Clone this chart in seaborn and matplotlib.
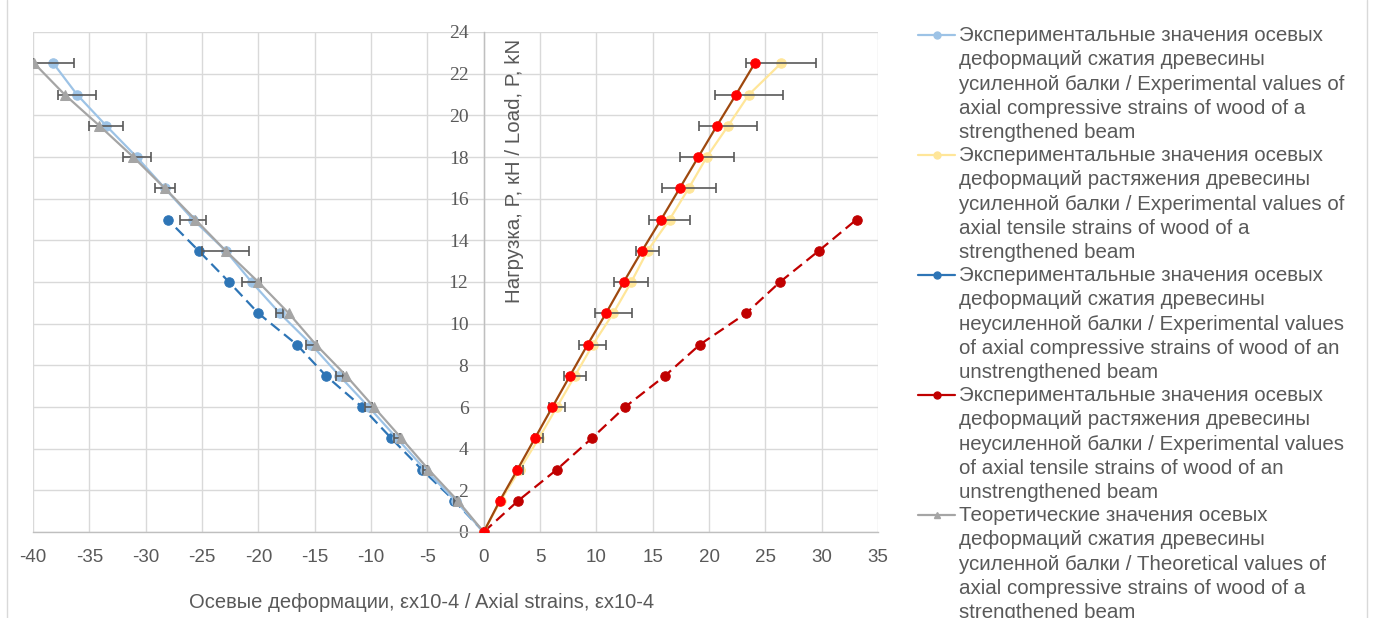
import matplotlib
matplotlib.use("Agg")
import matplotlib.pyplot as plt
import seaborn as sns
import pandas as pd
from matplotlib.lines import Line2D

# ---- data ----
load = [0, 1.5, 3, 4.5, 6, 7.5, 9, 10.5, 12, 13.5, 15, 16.5, 18, 19.5, 21, 22.5]
comp_str_exp = [0, -2.5, -5.2, -7.7, -10.2, -12.8, -15.3, -18.1, -20.6, -22.9, -25.8, -28.3, -30.8, -33.5, -36.1, -38.2]
comp_str_err = [0, 0.1, 0.2, 0.3, 0.3, 0.3, 0.5, 0.3, 0.85, 2.1, 1.15, 0.9, 1.25, 1.5, 1.65, 1.8]
tens_str_exp = [0, 1.5, 3.2, 4.9, 6.5, 8.1, 9.7, 11.5, 13.1, 14.55, 16.5, 18.2, 19.8, 21.7, 23.55, 26.4]
tens_str_err = [0, 0.1, 0.3, 0.4, 0.7, 1.0, 1.2, 1.65, 1.5, 1.0, 1.85, 2.4, 2.4, 2.6, 3.0, 3.1]
load_un = [0, 1.5, 3, 4.5, 6, 7.5, 9, 10.5, 12, 13.5, 15]
comp_un_exp = [0, -2.6, -5.5, -8.2, -10.8, -14.0, -16.6, -20.0, -22.6, -25.3, -28.05]
tens_un_exp = [0, 3.06, 6.5, 9.6, 12.55, 16.1, 19.2, 23.3, 26.3, 29.75, 33.1]
comp_theory = [0, -2.3, -4.9, -7.3, -9.75, -12.2, -14.9, -17.3, -20.0, -22.9, -25.6, -28.3, -31.1, -34.1, -37.2, -39.9]
tens_theory = [0, 1.43, 3.0, 4.55, 6.1, 7.66, 9.23, 10.86, 12.43, 14.06, 15.75, 17.4, 19.05, 20.7, 22.4, 24.06]

labels = [
    "Экспериментальные значения осевых\nдеформаций сжатия древесины\nусиленной балки / Experimental values of\naxial compressive strains of wood of a\nstrengthened beam",
    "Экспериментальные значения осевых\nдеформаций растяжения древесины\nусиленной балки / Experimental values of\naxial tensile strains of wood of a\nstrengthened beam",
    "Экспериментальные значения осевых\nдеформаций сжатия древесины\nнеусиленной балки / Experimental values\nof axial compressive strains of wood of an\nunstrengthened beam",
    "Экспериментальные значения осевых\nдеформаций растяжения древесины\nнеусиленной балки / Experimental values\nof axial tensile strains of wood of an\nunstrengthened beam",
    "Теоретические значения осевых\nдеформаций сжатия древесины\nусиленной балки / Theoretical values of\naxial compressive strains of wood of a\nstrengthened beam",
]
x_ticks = list(range(-40, 40, 5))
y_ticks = list(range(0, 26, 2))
x_label = "Осевые деформации, εx10-4 / Axial strains, εx10-4"
y_label = "Нагрузка, P, кН / Load, P, kN"

# ---- style ----
sns.set_theme(style="white")
plt.rcParams["font.family"] = ["Liberation Sans", "DejaVu Sans"]
plt.rcParams["axes.unicode_minus"] = False

TXT = "#595959"
W, H = 1378, 618
fig = plt.figure(figsize=(W / 100, H / 100), dpi=100)
ax = fig.add_axes([33 / W, 1 - 532 / H, (878 - 33) / W, (532 - 32) / H])

lw = 1.6
ms = 6.8

series = [
    dict(x=comp_str_exp, y=load, c="#9DC3E6", mc="#9DC3E6", m="o", dash=False, z=3),
    dict(x=tens_str_exp, y=load, c="#FFE699", mc="#FFE699", m="o", dash=False, z=3),
    dict(x=comp_un_exp, y=load_un, c="#2E75B6", mc="#2E75B6", m="o", dash=True, z=2.5),
    dict(x=tens_un_exp, y=load_un, c="#C00000", mc="#C00000", m="o", dash=True, z=2.5),
    dict(x=comp_theory, y=load, c="#A5A5A5", mc="#A5A5A5", m="^", dash=False, z=4),
    dict(x=tens_theory, y=load, c="#9E480E", mc="#FF0000", m="o", dash=False, z=4),
]

for s in series:
    df = pd.DataFrame({"x": s["x"], "y": s["y"]})
    n0 = len(ax.lines)
    sns.lineplot(data=df, x="x", y="y", ax=ax, estimator=None, sort=False,
                 color=s["c"], lw=lw, marker=s["m"], markersize=ms,
                 markerfacecolor=s["mc"], markeredgecolor=s["mc"], zorder=s["z"])
    if s["dash"]:
        for ln in ax.lines[n0:]:
            ln.set_linestyle((0, (5, 2.6)))

ax.errorbar(comp_str_exp, load, xerr=comp_str_err, fmt="none", ecolor=TXT,
            elinewidth=1.2, capsize=3.5, capthick=1.2, zorder=3.5)
ax.errorbar(tens_str_exp, load, xerr=tens_str_err, fmt="none", ecolor=TXT,
            elinewidth=1.2, capsize=3.5, capthick=1.2, zorder=3.5)

ax.set_xlim(-40, 35)
ax.set_ylim(0, 24)
ax.set_xticks(x_ticks)
ax.set_yticks(y_ticks)
ax.grid(True, color="#D9D9D9", lw=1)
ax.set_axisbelow(True)
for sp in ["top", "right"]:
    ax.spines[sp].set_visible(False)
ax.spines["left"].set_position(("data", 0))
for sp in ["left", "bottom"]:
    ax.spines[sp].set_color("#BFBFBF")
    ax.spines[sp].set_linewidth(1)
ax.set_xlabel("")
ax.set_ylabel("")
ax.tick_params(axis="both", length=0, colors=TXT)
ax.tick_params(axis="y", pad=11)
ax.tick_params(axis="x", pad=12)
for t in ax.get_yticklabels():
    t.set_fontfamily(["Liberation Serif", "DejaVu Serif"])
    t.set_fontsize(14)
for t in ax.get_xticklabels():
    t.set_fontsize(13.5)

ax.text(2.7, 23.65, y_label, rotation=90, ha="center", va="top",
        fontsize=14.8, color=TXT)
fig.text(422 / W, 1 - 602 / H, x_label, ha="center", va="center",
         fontsize=14.5, color=TXT)

# ---- manual legend (clipped at the bottom like the reference) ----
fs_leg = 14.8
line_h = 24.0
for i, (s, lab) in enumerate(zip(series[:5], labels)):
    yc = 35 + i * 5 * line_h
    fig.add_artist(Line2D([918 / W, 955 / W], [1 - yc / H, 1 - yc / H],
                          color=s["c"], lw=lw, transform=fig.transFigure))
    fig.add_artist(Line2D([936.5 / W], [1 - yc / H], color=s["mc"], lw=0,
                          marker=s["m"], markersize=5, transform=fig.transFigure))
    fig.text(959 / W, 1 - (yc - 9) / H, lab, ha="left", va="top",
             fontsize=fs_leg, color=TXT, linespacing=1.355)

# chart frame
fig.add_artist(Line2D([7 / W, 7 / W], [0, 1], color="#D9D9D9", lw=1,
                      transform=fig.transFigure))
fig.add_artist(Line2D([1367 / W, 1367 / W], [0, 1], color="#D9D9D9",
                      lw=1, transform=fig.transFigure))

fig.savefig("out.png", dpi=100)
